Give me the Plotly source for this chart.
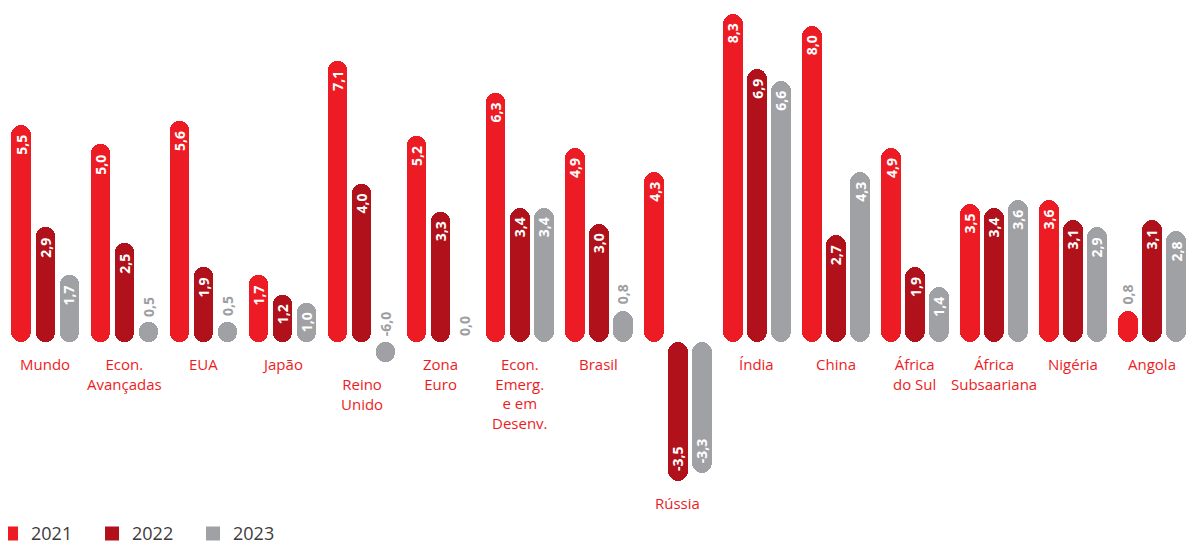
import math
import plotly.graph_objects as go

# ---------------- data ----------------
categories = ["Mundo", "Econ.<br>Avançadas", "EUA", "Japão", "Reino<br>Unido", "Zona<br>Euro",
              "Econ.<br>Emerg.<br>e em<br>Desenv.", "Brasil", "Rússia", "Índia", "China",
              "África<br>do Sul", "África<br>Subsaariana", "Nigéria", "Angola"]
years = ["2021", "2022", "2023"]
v2021 = [5.5, 5.0, 5.6, 1.7, 7.1, 5.2, 6.3, 4.9, 4.3, 8.3, 8.0, 4.9, 3.5, 3.6, 0.8]
v2022 = [2.9, 2.5, 1.9, 1.2, 4.0, 3.3, 3.4, 3.0, -3.5, 6.9, 2.7, 1.9, 3.4, 3.1, 3.1]
v2023 = [1.7, 0.5, 0.5, 1.0, -6.0, 0.0, 3.4, 0.8, -3.3, 6.6, 4.3, 1.4, 3.6, 2.9, 2.8]
# in the original, this printed value is drawn only as a small dot
dot_only = {"2023": ["Reino<br>Unido"]}

colors = {"2021": "#ED1C24", "2022": "#B0111A", "2023": "#A0A1A5"}
series = {"2021": v2021, "2022": v2022, "2023": v2023}

DOT = 0.5            # length of a dot-only mark
BAR_W = 0.25         # bar width in category units
PITCH = 0.304        # distance between bar centres within a group
FONT = "Open Sans"

fig = go.Figure()
xs = list(range(len(categories)))
lowest = [0.0] * len(categories)
annotations = []

for k, yr in enumerate(years):
    vals = series[yr]
    centre_off = (k - 1) * PITCH
    drawn = []
    for c, v in zip(categories, vals):
        if c in dot_only.get(yr, []):
            drawn.append(math.copysign(DOT, v))
        else:
            drawn.append(v)
    # bar from 0 to value (rounded at the value end)
    fig.add_trace(go.Bar(
        x=xs, y=drawn, base=0, width=BAR_W, offset=centre_off - BAR_W / 2,
        marker=dict(color=colors[yr], cornerradius=10, line=dict(width=0)),
        showlegend=False, hoverinfo="skip"))
    # same bar drawn back from value to 0 (rounded at the base end)
    fig.add_trace(go.Bar(
        x=xs, y=[-d for d in drawn], base=drawn, width=BAR_W, offset=centre_off - BAR_W / 2,
        marker=dict(color=colors[yr], cornerradius=10, line=dict(width=0)),
        showlegend=False, hoverinfo="skip"))
    for i, (c, v, d) in enumerate(zip(categories, vals, drawn)):
        lowest[i] = min(lowest[i], d)
        txt = f"{v:.1f}".replace(".", ",")
        xpos = i + centre_off
        inside = abs(d) >= 1.0
        if inside:
            annotations.append(dict(
                x=xpos, y=d, xref="x", yref="y", text=f"<b>{txt}</b>", showarrow=False,
                textangle=-90, yanchor="top" if d > 0 else "bottom",
                yshift=-8 if d > 0 else 8,
                font=dict(family=FONT, size=14, color="white")))
        else:
            annotations.append(dict(
                x=xpos, y=max(d, 0), xref="x", yref="y", text=f"<b>{txt}</b>", showarrow=False,
                textangle=-90, yanchor="bottom", yshift=4,
                font=dict(family=FONT, size=14, color="#9D9EA2")))

# category labels below the lowest mark of each group
for i, c in enumerate(categories):
    annotations.append(dict(
        x=i, y=lowest[i], xref="x", yref="y", text=c, showarrow=False,
        yanchor="top", yshift=-10, align="center",
        font=dict(family=FONT, size=15, color="#ED1C24")))

# legend entries
for yr in years:
    fig.add_trace(go.Scatter(
        x=[None], y=[None], mode="markers", name=yr,
        marker=dict(symbol="square", size=14, color=colors[yr])))

fig.update_layout(
    width=1195, height=537,
    margin=dict(l=0, r=0, t=0, b=0, autoexpand=False),
    barmode="overlay", bargap=0,
    plot_bgcolor="white", paper_bgcolor="white",
    xaxis=dict(range=[-0.4732, 14.646], visible=False, fixedrange=True),
    yaxis=dict(range=[-5.119, 8.442], visible=False, fixedrange=True),
    annotations=annotations,
    showlegend=True,
    legend=dict(orientation="h", x=-0.0142, y=-0.0135, xanchor="left", yanchor="bottom",
                font=dict(family=FONT, size=18, color="#3C3C3C"),
                entrywidth=56, itemwidth=30, bgcolor="rgba(0,0,0,0)"),
)

fig.write_html("out.html")
